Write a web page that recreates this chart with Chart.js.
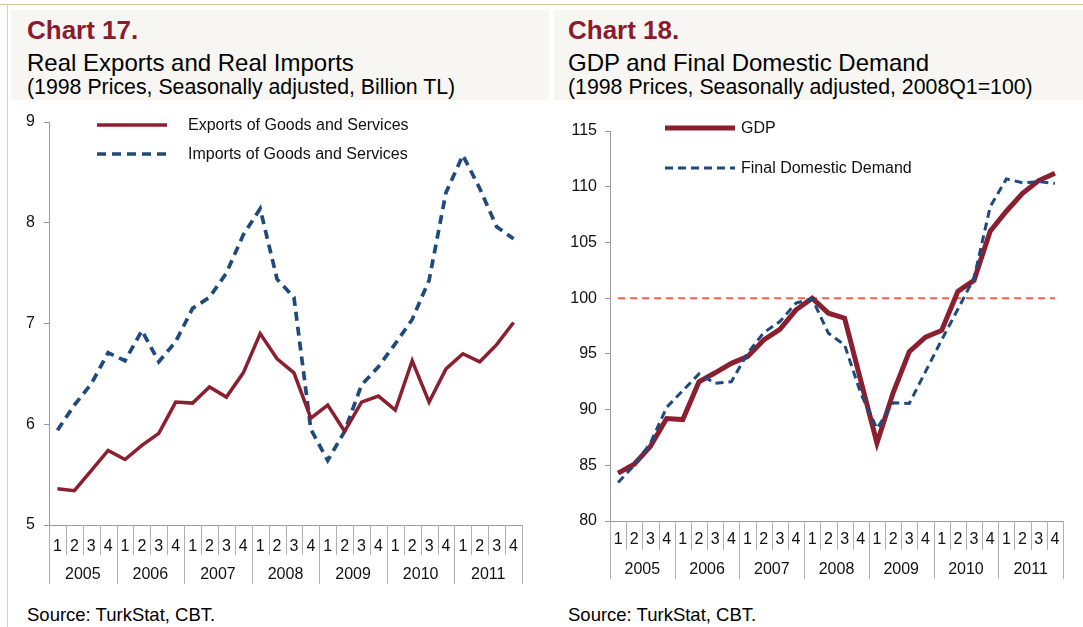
<!DOCTYPE html>
<html>
<head>
<meta charset="utf-8">
<script src="https://cdn.jsdelivr.net/npm/chart.js@4.4.0/dist/chart.umd.min.js"></script>
<style>
  html, body { margin:0; padding:0; background:#fff; }
  body { width:1083px; height:627px; position:relative; overflow:hidden; font-family:"Liberation Sans", Arial, sans-serif; }
  .topline { position:absolute; left:0; top:4px; width:1083px; height:1px; background:#d3c6a8; }
  .leftline { position:absolute; left:7px; top:4px; width:1px; height:623px; background:#d8d0c4; }
  .hdr { position:absolute; top:10px; height:90px; background:#f7f6f2; }
  .t1 { position:absolute; font-weight:bold; color:#8c1c2d; font-size:26px; white-space:nowrap; }
  .t2 { position:absolute; color:#000; font-size:24px; white-space:nowrap; }
  .t3 { position:absolute; color:#000; font-size:21.3px; white-space:nowrap; }
  .src { position:absolute; color:#000; font-size:18.5px; white-space:nowrap; }
  canvas { position:absolute; }
</style>
</head>
<body>
<div class="topline"></div>
<div class="leftline"></div>
<div class="hdr" style="left:11px;width:538px;"></div>
<div class="hdr" style="left:554px;width:529px;"></div>
<div class="t1" style="left:27px;top:15px;">Chart 17.</div>
<div class="t2" style="left:27px;top:49px;">Real Exports and Real Imports</div>
<div class="t3" style="left:27px;top:75px;">(1998 Prices, Seasonally adjusted, Billion TL)</div>
<div class="t1" style="left:568px;top:15px;">Chart 18.</div>
<div class="t2" style="left:568px;top:49px;">GDP and Final Domestic Demand</div>
<div class="t3" style="left:568px;top:75px;">(1998 Prices, Seasonally adjusted, 2008Q1=100)</div>
<div class="src" style="left:27px;top:604px;">Source: TurkStat, CBT.</div>
<div class="src" style="left:568px;top:604px;">Source: TurkStat, CBT.</div>

<canvas id="c1" width="550" height="500" style="left:0;top:100px;"></canvas>
<canvas id="c2" width="529" height="500" style="left:554px;top:100px;"></canvas>

<script>
// ---------- DATA ----------
const years = ['2005','2006','2007','2008','2009','2010','2011'];
const quarters = ['1','2','3','4'];

const exportsLabel = 'Exports of Goods and Services';
const importsLabel = 'Imports of Goods and Services';
const exportsData = [5.36,5.34,5.54,5.74, 5.65,5.79,5.91,6.22, 6.21,6.37,6.27,6.51,
                     6.90,6.65,6.51,6.06, 6.19,5.93,6.22,6.28, 6.14,6.63,6.22,6.55,
                     6.70,6.62,6.79,7.01];
const importsData = [5.94,6.19,6.40,6.71, 6.63,6.93,6.62,6.82, 7.15,7.26,7.50,7.88,
                     8.14,7.44,7.26,5.95, 5.64,5.93,6.39,6.57, 6.80,7.04,7.43,8.30,
                     8.67,8.34,7.96,7.84];
const leftTicks = {min:5, max:9, step:1};

const gdpLabel = 'GDP';
const fddLabel = 'Final Domestic Demand';
const gdpData = [84.3,85.1,86.7,89.2, 89.1,92.5,93.3,94.15, 94.75,96.25,97.2,98.95,
                 100.0,98.65,98.2,92.6, 87.0,91.5,95.2,96.5, 97.1,100.6,101.6,106.0,
                 107.8,109.4,110.55,111.2];
const fddData = [83.45,85.0,87.0,90.2, 91.7,93.2,92.35,92.5, 95.05,96.9,97.9,99.55,
                 99.95,96.85,95.8,91.45, 88.3,90.6,90.55,93.4, 96.25,99.0,101.8,108.2,
                 110.7,110.35,110.45,110.3];
const baseLevel = 100;
const rightTicks = {min:80, max:115, step:5};

// ---------- BUILD ----------
const categories = years.flatMap(y => quarters.map(q => y + 'Q' + q));
const RED = '#8b1f30';
const BLUE = '#1f4a7d';
const FONT = '"Liberation Sans", Arial, sans-serif';
const AXIS = '#9a9a9a';
const SEP = '#b0b0b0';

const groupAxisPlugin = {
  id: 'groupAxis',
  afterDraw(chart, args, opts) {
    const x = chart.scales.x;
    const ctx = chart.ctx;
    const n = categories.length;
    const half = (x.getPixelForValue(1) - x.getPixelForValue(0)) / 2;
    ctx.save();
    ctx.strokeStyle = SEP;
    ctx.lineWidth = 1;
    for (let i = 0; i <= n; i++) {
      const bx = Math.round((i < n ? x.getPixelForValue(i) - half : x.getPixelForValue(n - 1) + half)) + 0.5;
      const len = (i % quarters.length === 0) ? opts.yearLen : opts.qLen;
      ctx.beginPath();
      ctx.moveTo(bx, x.top);
      ctx.lineTo(bx, x.top + len);
      ctx.stroke();
    }
    ctx.fillStyle = '#111';
    ctx.font = '16px ' + FONT;
    ctx.textAlign = 'center';
    ctx.textBaseline = 'middle';
    years.forEach((yr, k) => {
      const a = x.getPixelForValue(k * 4), b = x.getPixelForValue(k * 4 + 3);
      ctx.fillText(yr, (a + b) / 2, x.top + opts.yearOffset);
    });
    ctx.restore();
  }
};

const lineLegendPlugin = {
  id: 'lineLegend',
  afterDraw(chart, args, opts) {
    const ctx = chart.ctx;
    ctx.save();
    opts.items.forEach(it => {
      const ds = chart.data.datasets[it.index];
      ctx.strokeStyle = ds.borderColor;
      ctx.lineWidth = it.lw;
      ctx.setLineDash(it.dash || []);
      ctx.lineCap = 'butt';
      ctx.beginPath();
      ctx.moveTo(it.x0, it.y);
      ctx.lineTo(it.x1, it.y);
      ctx.stroke();
      ctx.setLineDash([]);
      ctx.fillStyle = '#111';
      ctx.font = opts.fontSize + 'px ' + FONT;
      ctx.textAlign = 'left';
      ctx.textBaseline = 'middle';
      ctx.fillText(ds.label, it.tx, it.y + 1);
    });
    ctx.restore();
  }
};

function makeOptions(range, yWidth, xHeight, pad, qPad, groupOpts, legendOpts, tickPad) {
  return {
    responsive: false,
    animation: false,
    layout: { padding: pad },
    plugins: { legend: { display: false }, tooltip: { enabled: false },
               groupAxis: groupOpts, lineLegend: legendOpts },
    elements: { point: { radius: 0 }, line: { tension: 0 } },
    scales: {
      x: {
        type: 'category',
        offset: true,
        grid: { display: false },
        border: { display: true, color: AXIS, width: 1 },
        ticks: {
          autoSkip: false, maxRotation: 0, minRotation: 0, padding: qPad,
          color: '#111', font: { size: 16, family: FONT },
          callback: (v, i) => quarters[i % quarters.length]
        },
        afterFit: s => { s.height = xHeight; }
      },
      y: {
        min: range.min, max: range.max,
        grid: { display: true, drawOnChartArea: false, drawTicks: true, tickLength: 5, color: AXIS },
        border: { display: true, color: AXIS, width: 1 },
        ticks: { stepSize: range.step, padding: tickPad, color: '#111', font: { size: 16, family: FONT } },
        afterFit: s => { s.width = yWidth; }
      }
    }
  };
}

new Chart(document.getElementById('c1'), {
  type: 'line',
  data: {
    labels: categories,
    datasets: [
      { label: exportsLabel, data: exportsData, borderColor: RED, borderWidth: 3.5, fill: false },
      { label: importsLabel, data: importsData, borderColor: BLUE, borderWidth: 3.7, borderDash: [9, 6], fill: false }
    ]
  },
  options: makeOptions(leftTicks, 49, 75, { left: 0, right: 28, top: 22, bottom: 0 }, 4,
    { qLen: 30, yearLen: 59, yearOffset: 50 },
    { fontSize: 16, items: [
      { index: 0, x0: 97, x1: 167, y: 25, tx: 188, lw: 3.5 },
      { index: 1, x0: 97, x1: 167, y: 54, tx: 188, lw: 3.7, dash: [9, 6] }
    ]}, 9),
  plugins: [groupAxisPlugin, lineLegendPlugin]
});

new Chart(document.getElementById('c2'), {
  type: 'line',
  data: {
    labels: categories,
    datasets: [
      { label: gdpLabel, data: gdpData, borderColor: RED, borderWidth: 5, fill: false, order: 1 },
      { label: fddLabel, data: fddData, borderColor: BLUE, borderWidth: 3, borderDash: [8, 5], fill: false, order: 0 },
      { label: 'ref', data: categories.map(() => baseLevel), borderColor: '#ef6150', borderWidth: 2, borderDash: [7, 5], fill: false, order: 2 }
    ]
  },
  options: makeOptions(rightTicks, 56, 79, { left: 0, right: 20, top: 31, bottom: 0 }, 1,
    { qLen: 29, yearLen: 58, yearOffset: 49 },
    { fontSize: 16, items: [
      { index: 0, x0: 111, x1: 181, y: 28, tx: 187, lw: 5 },
      { index: 1, x0: 111, x1: 181, y: 68, tx: 187, lw: 3, dash: [8, 5] }
    ]}, 8),
  plugins: [groupAxisPlugin, lineLegendPlugin]
});
</script>
</body>
</html>
